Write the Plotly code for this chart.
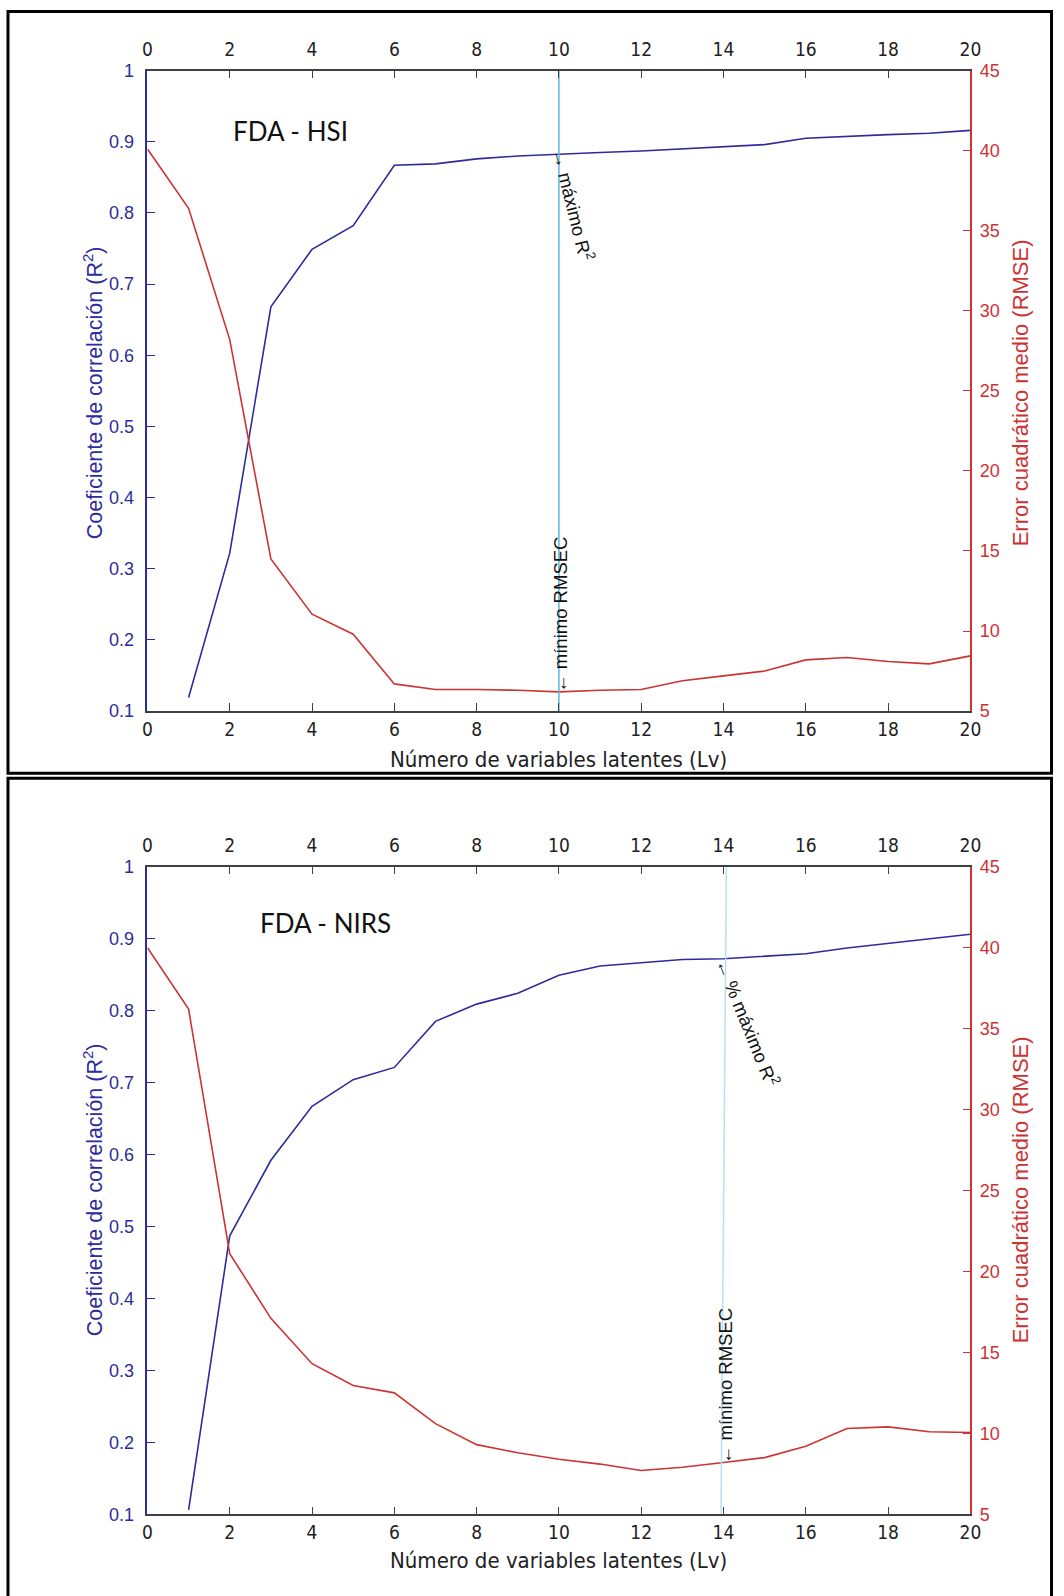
import plotly.graph_objects as go

# ---------------- data ----------------
lv_all = list(range(0, 21))
lv_r2 = list(range(1, 21))
x_ticks = list(range(0, 21, 2))

hsi_r2 = [0.119, 0.322, 0.668, 0.749, 0.782, 0.867, 0.869, 0.876, 0.880, 0.883,
          0.885, 0.887, 0.890, 0.893, 0.896, 0.905, 0.908, 0.910, 0.912, 0.916]
hsi_rmse = [40.1, 36.4, 28.2, 14.5, 11.05, 9.8, 6.7, 6.35, 6.35, 6.3, 6.2,
            6.3, 6.35, 6.9, 7.2, 7.5, 8.2, 8.35, 8.1, 7.95, 8.45]

nirs_r2 = [0.106, 0.487, 0.592, 0.667, 0.704, 0.721, 0.785, 0.809, 0.824, 0.849,
           0.862, 0.867, 0.871, 0.872, 0.875, 0.879, 0.887, 0.893, 0.899, 0.906]
nirs_rmse = [40.0, 36.2, 21.1, 17.1, 14.3, 12.95, 12.5, 10.6, 9.3, 8.8, 8.4,
             8.1, 7.7, 7.9, 8.2, 8.5, 9.2, 10.3, 10.4, 10.1, 10.05]

hsi_mark_x = [10, 10]
nirs_mark_x = [13.94, 14.07]
mark_y = [0.1, 1.0]

hsi_best = {"x": 10, "r2": 0.882, "rmse": 6.2}
nirs_best = {"x_r2": 14, "r2": 0.872, "x_rmse": 14.1, "rmse": 8.2}

# ---------------- styling ----------------
W, H = 1064, 1596
# small compensation of the page photograph (offset / scale observed in renders)
OX, SX = 4.0, 0.986
OY, SY = 7.5, 0.989
BLUE = "#2c2c9c"
RED = "#cc3333"
GREY = "#404040"
CYAN1 = "#5ab8dc"
CYAN2 = "#b9e0f0"
FONT = "Liberation Sans, Arial, sans-serif"
NARROW = "Liberation Sans Narrow, DejaVu Sans Condensed, Arial Narrow, Liberation Sans, sans-serif"


def px(x):
    return ((x - OX) / SX) / W


def py(y):
    return 1 - ((y - OY) / SY) / H


xdom = [px(146.6), px(970.4)]
top_dom = [py(709.7), py(68.2)]
bot_dom = [py(1514.1), py(865.5)]

fig = go.Figure()

# top panel traces
fig.add_trace(go.Scatter(x=lv_r2, y=hsi_r2, mode="lines", line=dict(color=BLUE, width=1.6),
                         xaxis="x", yaxis="y", showlegend=False, hoverinfo="skip"))
fig.add_trace(go.Scatter(x=lv_all, y=hsi_rmse, mode="lines", line=dict(color=RED, width=1.6),
                         xaxis="x", yaxis="y2", showlegend=False, hoverinfo="skip"))
fig.add_trace(go.Scatter(x=hsi_mark_x, y=mark_y, mode="lines", line=dict(color=CYAN1, width=1.5),
                         xaxis="x2", yaxis="y", showlegend=False, hoverinfo="skip"))

# bottom panel traces
fig.add_trace(go.Scatter(x=lv_r2, y=nirs_r2, mode="lines", line=dict(color=BLUE, width=1.6),
                         xaxis="x3", yaxis="y3", showlegend=False, hoverinfo="skip"))
fig.add_trace(go.Scatter(x=lv_all, y=nirs_rmse, mode="lines", line=dict(color=RED, width=1.6),
                         xaxis="x3", yaxis="y4", showlegend=False, hoverinfo="skip"))
fig.add_trace(go.Scatter(x=nirs_mark_x, y=mark_y, mode="lines", line=dict(color=CYAN2, width=1.5),
                         xaxis="x4", yaxis="y3", showlegend=False, hoverinfo="skip"))

XTICKFONT = dict(family=NARROW, size=19, color="#222222")


def xaxis_bottom(anchor):
    return dict(domain=xdom, anchor=anchor, range=[0, 20], tickmode="array", tickvals=x_ticks,
                ticks="inside", ticklen=8, tickcolor=GREY, showline=True, linecolor=GREY,
                linewidth=1.5, showgrid=False, zeroline=False, tickfont=XTICKFONT)


def xaxis_top(overlay, anchor):
    return dict(domain=xdom, anchor=anchor, overlaying=overlay, side="top", range=[0, 20],
                tickmode="array", tickvals=x_ticks, ticks="inside", ticklen=8, tickcolor=GREY,
                showline=True, linecolor=GREY, linewidth=1.5, showgrid=False, zeroline=False,
                tickfont=XTICKFONT, ticklabelstandoff=5)


def y_left(dom, anchor):
    return dict(domain=dom, anchor=anchor, range=[0.1, 1.0], tickmode="array",
                tickvals=[0.1, 0.2, 0.3, 0.4, 0.5, 0.6, 0.7, 0.8, 0.9, 1.0],
                ticktext=["0.1", "0.2", "0.3", "0.4", "0.5", "0.6", "0.7", "0.8", "0.9", "1"],
                ticks="inside", ticklen=8, tickcolor=BLUE, showline=True, linecolor=BLUE,
                linewidth=1.5, showgrid=False, zeroline=False, ticklabelstandoff=8,
                tickfont=dict(family=FONT, size=18, color=BLUE))


def y_right(dom, anchor, overlay):
    return dict(domain=dom, anchor=anchor, overlaying=overlay, side="right", range=[5, 45],
                tickmode="array", tickvals=list(range(5, 46, 5)), ticks="inside", ticklen=8,
                tickcolor=RED, showline=True, linecolor=RED, linewidth=1.5, showgrid=False,
                zeroline=False, ticklabelstandoff=4,
                tickfont=dict(family=FONT, size=18, color=RED))


ann = []


def title_block(y_center_px, y_xtitle_px):
    ann.append(dict(text="Coeficiente de correlación (R<sup>2</sup>)", x=px(92), y=py(y_center_px),
                    xref="paper", yref="paper", showarrow=False, textangle=-90,
                    xanchor="center", yanchor="middle", font=dict(family=FONT, size=21.5, color=BLUE)))
    ann.append(dict(text="Error cuadrático medio (RMSE)", x=px(1020), y=py(y_center_px),
                    xref="paper", yref="paper", showarrow=False, textangle=-90,
                    xanchor="center", yanchor="middle", font=dict(family=FONT, size=22, color=RED)))
    ann.append(dict(text="Número de variables latentes (Lv)", x=px(558), y=py(y_xtitle_px),
                    xref="paper", yref="paper", showarrow=False, xanchor="center", yanchor="middle",
                    font=dict(family=NARROW, size=22, color="#222222")))


title_block(390.5, 758.6)
title_block(1188.7, 1560)

TFONT = dict(family="Lato, Open Sans, sans-serif", size=26, color="#111111")
ann.append(dict(text="FDA - HSI", x=px(290), y=py(129), xref="paper", yref="paper", showarrow=False,
                xanchor="center", yanchor="middle", font=TFONT))
ann.append(dict(text="FDA - NIRS", x=px(325), y=py(921.5), xref="paper", yref="paper", showarrow=False,
                xanchor="center", yanchor="middle", font=TFONT))

AFONT = dict(family=FONT, size=18.5, color="#111111")
ann.append(dict(text="→ máximo R<sup>2</sup>", x=hsi_best["x"], y=hsi_best["r2"], xref="x", yref="y",
                showarrow=False, textangle=76, xshift=15, yshift=-50,
                xanchor="center", yanchor="middle", font=AFONT))
ann.append(dict(text="← mínimo RMSEC", x=hsi_best["x"], y=hsi_best["rmse"], xref="x", yref="y2",
                showarrow=False, textangle=-90, xshift=2, yshift=77,
                xanchor="center", yanchor="middle", font=AFONT))
ann.append(dict(text="← % máximo R<sup>2</sup>", x=nirs_best["x_r2"], y=nirs_best["r2"], xref="x3", yref="y3",
                showarrow=False, textangle=68, xshift=25, yshift=-64,
                xanchor="center", yanchor="middle", font=AFONT))
ann.append(dict(text="← mínimo RMSEC", x=nirs_best["x_rmse"], y=nirs_best["rmse"], xref="x3", yref="y4",
                showarrow=False, textangle=-90, xshift=-2, yshift=76,
                xanchor="center", yanchor="middle", font=AFONT))

shapes = [
    dict(type="rect", xref="paper", yref="paper", x0=px(7), x1=1062.5 / W, y0=py(772), y1=1 - 1.5 / H,
         line=dict(color="black", width=3)),
    dict(type="rect", xref="paper", yref="paper", x0=px(7), x1=1062.5 / W, y0=-0.02, y1=py(777),
         line=dict(color="black", width=3)),
]

fig.update_layout(
    width=W, height=H, margin=dict(l=0, r=0, t=0, b=0),
    paper_bgcolor="white", plot_bgcolor="white",
    xaxis=xaxis_bottom("y"),
    xaxis2=xaxis_top("x", "y"),
    yaxis=y_left(top_dom, "x"),
    yaxis2=y_right(top_dom, "x", "y"),
    xaxis3=xaxis_bottom("y3"),
    xaxis4=xaxis_top("x3", "y3"),
    yaxis3=y_left(bot_dom, "x3"),
    yaxis4=y_right(bot_dom, "x3", "y3"),
    annotations=ann, shapes=shapes, showlegend=False,
)

fig.write_html("out.html")
